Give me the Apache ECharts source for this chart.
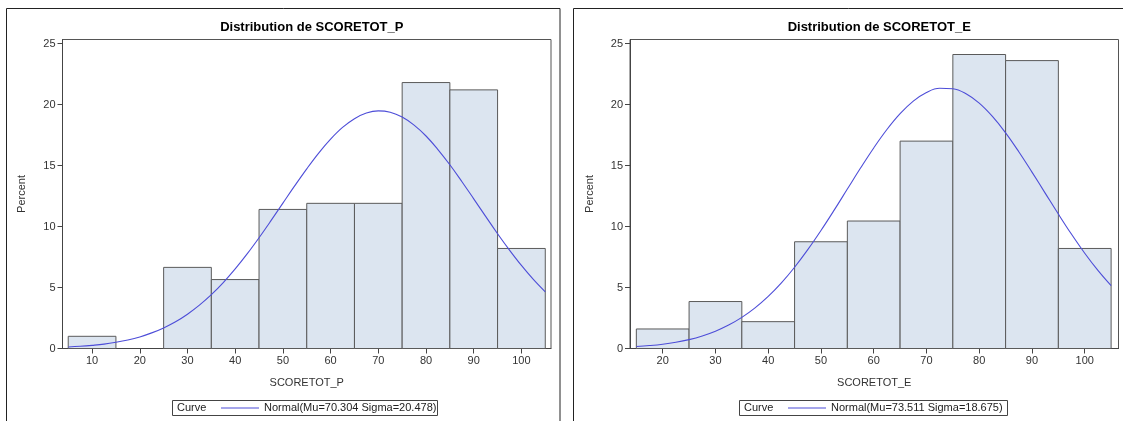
<!DOCTYPE html>
<html>
<head>
<meta charset="utf-8">
<script src="https://cdn.jsdelivr.net/npm/echarts@6/dist/echarts.min.js"></script>
<style>
html,body{margin:0;padding:0;background:#fff;}
#chart{width:1123px;height:421px;}
</style>
</head>
<body>
<div id="chart"></div>
<script>
// ---- Data ----
const BIN_WIDTH = 10;
const binsP = [10, 20, 30, 40, 50, 60, 70, 80, 90, 100];
const pctP  = [1.0, 0, 6.65, 5.65, 11.4, 11.9, 11.9, 21.8, 21.2, 8.2];
const binsE = [20, 30, 40, 50, 60, 70, 80, 90, 100];
const pctE  = [1.6, 3.85, 2.2, 8.75, 10.45, 17.0, 24.1, 23.6, 8.2];

const curveXP = [5, 7.5, 10, 12.5, 15, 17.5, 20, 22.5, 25, 27.5, 30, 32.5, 35, 37.5, 40, 42.5, 45, 47.5, 50, 52.5, 55, 57.5, 60, 62.5, 65, 67.5, 70, 72.5, 75, 77.5, 80, 82.5, 85, 87.5, 90, 92.5, 95, 97.5, 100, 102.5, 105];
const curveYP = [0.12, 0.18, 0.26, 0.36, 0.51, 0.70, 0.95, 1.28, 1.69, 2.19, 2.81, 3.55, 4.41, 5.40, 6.52, 7.75, 9.08, 10.48, 11.92, 13.35, 14.73, 16.02, 17.16, 18.12, 18.84, 19.30, 19.48, 19.37, 18.97, 18.31, 17.42, 16.31, 15.06, 13.69, 12.27, 10.83, 9.41, 8.07, 6.81, 5.66, 4.64];
const curveXE = [15, 17.5, 20, 22.5, 25, 27.5, 30, 32.5, 35, 37.5, 40, 42.5, 45, 47.5, 50, 52.5, 55, 57.5, 60, 62.5, 65, 67.5, 70, 72.5, 75, 77.5, 80, 82.5, 85, 87.5, 90, 92.5, 95, 97.5, 100, 102.5, 105];
const curveYE = [0.16, 0.24, 0.35, 0.51, 0.73, 1.03, 1.42, 1.92, 2.55, 3.33, 4.27, 5.38, 6.66, 8.10, 9.67, 11.34, 13.07, 14.79, 16.44, 17.95, 19.25, 20.28, 20.99, 21.33, 21.29, 20.88, 20.11, 19.02, 17.68, 16.13, 14.46, 12.74, 11.02, 9.36, 7.81, 6.40, 5.15];

const xTicksP = [10, 20, 30, 40, 50, 60, 70, 80, 90, 100];
const xTicksE = [20, 30, 40, 50, 60, 70, 80, 90, 100];
const yTicks  = [0, 5, 10, 15, 20, 25];

const titleP = 'Distribution de SCORETOT_P';
const titleE = 'Distribution de SCORETOT_E';
const nameP = 'SCORETOT_P';
const nameE = 'SCORETOT_E';
const legendP = 'Normal(Mu=70.304 Sigma=20.478)';
const legendE = 'Normal(Mu=73.511 Sigma=18.675)';
const curveLabel = 'Curve';

// ---- Chart ----
const FONT = '"Liberation Sans", Arial, sans-serif';
const CURVE_COLOR = '#4d4dd8';
const chart = echarts.init(document.getElementById('chart'), null, {renderer: 'canvas'});

function zip(a, b) { return a.map((v, i) => [v, b[i]]); }

function renderHist(params, api) {
  const x = api.value(0), y = api.value(1);
  if (!y) return null;
  const p0 = api.coord([x - BIN_WIDTH / 2, y]);
  const p1 = api.coord([x + BIN_WIDTH / 2, 0]);
  return {
    type: 'rect',
    shape: {x: p0[0], y: p0[1], width: p1[0] - p0[0], height: p1[1] - p0[1]},
    style: {fill: '#dce5f0', stroke: '#5a5a5a', lineWidth: 1}
  };
}

const grids = [
  {left: 62.5, top: 39.5, width: 488.5, height: 309, show: true, borderColor: '#555', borderWidth: 1, backgroundColor: 'transparent'},
  {left: 630, top: 39.5, width: 488.5, height: 309, show: true, borderColor: '#555', borderWidth: 1, backgroundColor: 'transparent'}
];

function xAxis(gi, min, max, ticks, name) {
  return {
    type: 'value', gridIndex: gi, min: min, max: max,
    name: name, nameLocation: 'middle', nameGap: 29,
    nameTextStyle: {fontFamily: FONT, fontSize: 11, color: '#333'},
    axisLine: {show: true, lineStyle: {color: '#444', width: 1}},
    axisTick: {show: true, customValues: ticks, length: 5, lineStyle: {color: '#444'}},
    axisLabel: {customValues: ticks, fontFamily: FONT, fontSize: 11, color: '#333', margin: 7},
    splitLine: {show: false}
  };
}
function yAxis(gi) {
  return {
    type: 'value', gridIndex: gi, min: 0, max: 25.33,
    name: 'Percent', nameLocation: 'middle', nameGap: 35,
    nameTextStyle: {fontFamily: FONT, fontSize: 11, color: '#333'},
    axisLine: {show: true, lineStyle: {color: '#444', width: 1}},
    axisTick: {show: true, customValues: yTicks, length: 5, lineStyle: {color: '#444'}},
    axisLabel: {customValues: yTicks, fontFamily: FONT, fontSize: 11, color: '#333', margin: 7},
    splitLine: {show: false}
  };
}

function legend(name, left) {
  return {data: [{name: name, icon: 'rect'}], left: left, top: 402, padding: 0,
    itemWidth: 38, itemHeight: 1.2, itemGap: 5,
    itemStyle: {color: CURVE_COLOR, borderWidth: 0},
    lineStyle: {width: 0},
    textStyle: {fontFamily: FONT, fontSize: 11, color: '#222', lineHeight: 12}};
}

const option = {
  backgroundColor: '#fff',
  animation: false,
  title: [
    {text: titleP, left: 306.75, top: 16, textAlign: 'center',
     textStyle: {fontFamily: FONT, fontSize: 13, fontWeight: 'bold', color: '#000'}},
    {text: titleE, left: 874.25, top: 16, textAlign: 'center',
     textStyle: {fontFamily: FONT, fontSize: 13, fontWeight: 'bold', color: '#000'}}
  ],
  grid: grids,
  xAxis: [xAxis(0, 3.8, 106.2, xTicksP, nameP), xAxis(1, 13.8, 106.4, xTicksE, nameE)],
  yAxis: [yAxis(0), yAxis(1)],
  legend: [legend(legendP, 221), legend(legendE, 788)],
  graphic: [
    {type: 'rect', shape: {x: 6.5, y: 8.5, width: 553.5, height: 430}, style: {fill: 'none', stroke: '#222', lineWidth: 1}, silent: true},
    {type: 'rect', shape: {x: 573.5, y: 8.5, width: 560, height: 430}, style: {fill: 'none', stroke: '#222', lineWidth: 1}, silent: true},
    {type: 'rect', shape: {x: 172.5, y: 400.5, width: 265, height: 15}, style: {fill: 'none', stroke: '#444', lineWidth: 1}, silent: true},
    {type: 'rect', shape: {x: 739.5, y: 400.5, width: 268, height: 15}, style: {fill: 'none', stroke: '#444', lineWidth: 1}, silent: true},
    {type: 'text', x: 177, y: 408, style: {text: curveLabel, fontFamily: FONT, fontSize: 11, fill: '#222', verticalAlign: 'middle'}, silent: true},
    {type: 'text', x: 744, y: 408, style: {text: curveLabel, fontFamily: FONT, fontSize: 11, fill: '#222', verticalAlign: 'middle'}, silent: true}
  ],
  series: [
    {type: 'custom', xAxisIndex: 0, yAxisIndex: 0, renderItem: renderHist, data: zip(binsP, pctP), z: 2},
    {type: 'custom', xAxisIndex: 1, yAxisIndex: 1, renderItem: renderHist, data: zip(binsE, pctE), z: 2},
    {type: 'line', name: legendP, xAxisIndex: 0, yAxisIndex: 0, data: zip(curveXP, curveYP), smooth: 0.4,
     symbol: 'none', lineStyle: {color: CURVE_COLOR, width: 1.1}, itemStyle: {color: CURVE_COLOR}, z: 3},
    {type: 'line', name: legendE, xAxisIndex: 1, yAxisIndex: 1, data: zip(curveXE, curveYE), smooth: 0.4,
     symbol: 'none', lineStyle: {color: CURVE_COLOR, width: 1.1}, itemStyle: {color: CURVE_COLOR}, z: 3}
  ]
};
chart.setOption(option);
</script>
</body>
</html>
